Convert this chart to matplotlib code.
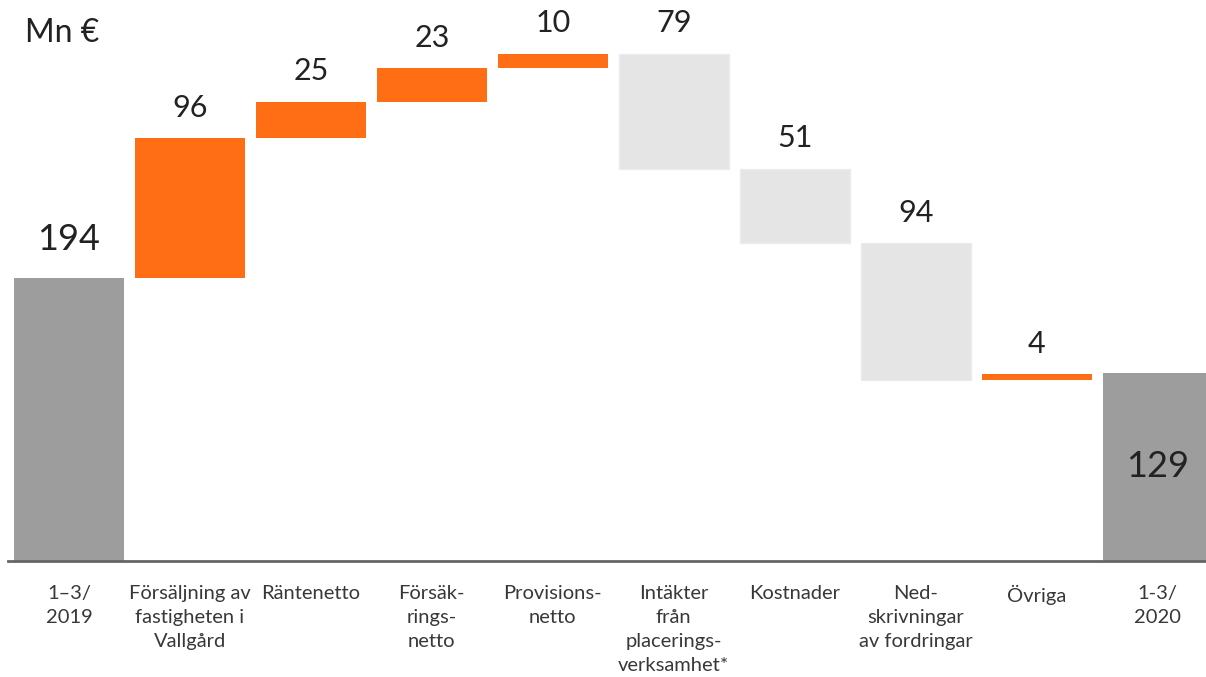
import matplotlib
matplotlib.use('Agg')
import matplotlib.pyplot as plt
import numpy as np

plt.rcParams['font.family'] = ['Lato', 'DejaVu Sans']

kategorier = ['1–3/\n2019', 'Försäljning av\nfastigheten i\nVallgård', 'Räntenetto',
              'Försäk-\nrings-\nnetto', 'Provisions-\nnetto',
              'Intäkter\nfrån\nplacerings-\nverksamhet*', 'Kostnader',
              'Ned-\nskrivningar\nav fordringar', 'Övriga', '1-3/\n2020']
forandring = [194, 96, 25, 23, 10, -79, -51, -94, 4, 129]
typ = ['total', 'upp', 'upp', 'upp', 'upp', 'ned', 'ned', 'ned', 'upp', 'total']

farger = {'total': '#9d9d9d', 'upp': '#ff6e14', 'ned': '#e5e5e5'}

# baser för vattenfallet
botten, hojd = [], []
niva = 0
for v, t in zip(forandring, typ):
    if t == 'total':
        botten.append(0)
        hojd.append(v)
        niva = v
    elif v >= 0:
        botten.append(niva)
        hojd.append(v)
        niva += v
    else:
        niva += v
        botten.append(niva)
        hojd.append(-v)

x = np.arange(len(kategorier))

fig = plt.figure(figsize=(12.06, 6.77), dpi=100)
ax = fig.add_axes([8 / 1206, 116 / 677, 1198 / 1206, 554 / 677])

for i in range(len(x)):
    ax.bar(x[i], hojd[i], bottom=botten[i], width=0.91, color=farger[typ[i]],
           edgecolor='#ececec' if typ[i] == 'ned' else 'none', linewidth=1)

for i in range(len(x)):
    etikett = str(abs(forandring[i]))
    if i == len(x) - 1:
        ax.text(x[i], botten[i] + hojd[i] / 2, etikett, ha='center', va='center',
                fontsize=26, color='#222222')
    else:
        ax.annotate(etikett, (x[i], botten[i] + hojd[i]), xytext=(0, 22 if i else 28),
                    textcoords='offset points', ha='center', va='center',
                    fontsize=26 if i == 0 else 22, color='#222222')

ax.set_xlim(-0.504, 9.40)
ax.set_ylim(0, 380)
for s in ['top', 'right', 'left']:
    ax.spines[s].set_visible(False)
ax.spines['bottom'].set_color('#666666')
ax.spines['bottom'].set_linewidth(2)
ax.set_yticks([])
ax.set_xticks(x)
ax.set_xticklabels(kategorier, fontsize=14.5, color='#383838', linespacing=1.5)
ax.tick_params(axis='x', length=0, pad=17)

fig.text(25 / 1206, 1 - 33 / 677, 'Mn €', fontsize=23, va='center', ha='left',
         color='#222222')

fig.savefig('out.png', dpi=100)
